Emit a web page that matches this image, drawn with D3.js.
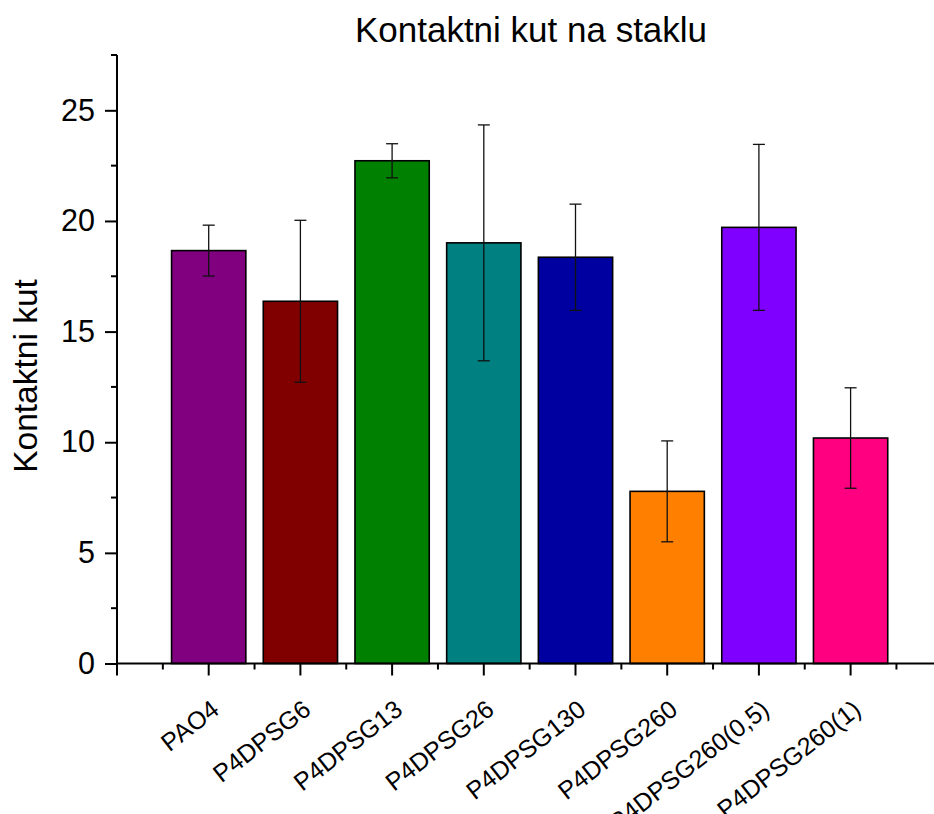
<!DOCTYPE html>
<html>
<head>
<meta charset="utf-8">
<script src="https://cdn.jsdelivr.net/npm/d3@7"></script>
<style>
  html, body { margin: 0; padding: 0; background: #fff; }
  svg { display: block; }
  text { font-family: "Liberation Sans", Arial, sans-serif; fill: #000; }
</style>
</head>
<body>
<svg id="chart" width="934" height="814"></svg>
<script>
// Contact angle on glass, mean and standard deviation per sample
const categories = ["PAO4", "P4DPSG6", "P4DPSG13", "P4DPSG26", "P4DPSG130", "P4DPSG260", "P4DPSG260(0,5)", "P4DPSG260(1)"];
const means = [18.66, 16.37, 22.72, 19.01, 18.36, 7.78, 19.71, 10.19];
const errors = [1.15, 3.66, 0.77, 5.33, 2.40, 2.28, 3.75, 2.27];
const colors = ["#800080", "#800000", "#008000", "#008080", "#0000A0", "#FF8000", "#8000FF", "#FF0080"];
const yMajorTicks = [0, 5, 10, 15, 20, 25];
const yMinorTicks = [2.5, 7.5, 12.5, 17.5, 22.5, 27.5];

const svg = d3.select("#chart");

const x = d3.scaleLinear().domain([0, categories.length + 1]).range([117, 942.3]);
const y = d3.scaleLinear().domain([0, 27.5]).range([663.5, 55]);
const step = x(1) - x(0);
const barW = step * 0.81;

// Bars
svg.append("g").selectAll("rect")
  .data(means)
  .join("rect")
  .attr("x", (d, i) => x(i + 1) - barW / 2)
  .attr("y", d => y(d))
  .attr("width", barW)
  .attr("height", d => y(0) - y(d))
  .attr("fill", (d, i) => colors[i])
  .attr("stroke", "#000")
  .attr("stroke-width", 1.6);

// Error bars
const eb = svg.append("g").attr("stroke", "#111").attr("stroke-width", 1.3).attr("fill", "none");
means.forEach((m, i) => {
  const cx = x(i + 1);
  const top = y(m + errors[i]);
  const bot = y(m - errors[i]);
  eb.append("line").attr("x1", cx).attr("x2", cx).attr("y1", top).attr("y2", bot);
  eb.append("line").attr("x1", cx - 6).attr("x2", cx + 6).attr("y1", top).attr("y2", top);
  eb.append("line").attr("x1", cx - 6).attr("x2", cx + 6).attr("y1", bot).attr("y2", bot);
});

// Y axis: major ticks with labels, minor ticks between
const yAxis = svg.append("g").attr("transform", `translate(${x(0)},0)`);
yAxis.call(d3.axisLeft(y).tickValues(yMajorTicks).tickSize(12).tickPadding(10).tickFormat(d3.format("d")));
yAxis.call(g => g.selectAll(".tick line").attr("stroke-width", 2));
yAxis.call(g => g.selectAll(".tick text").attr("font-size", 30.5).attr("font-family", "Liberation Sans, Arial, sans-serif").attr("fill", "#000"));
yAxis.call(g => g.select(".domain").attr("stroke-width", 2).attr("d", `M0,${y(0) + 1}V${y(27.5)}`));
yAxis.selectAll(".minor").data(yMinorTicks).join("line")
  .attr("class", "minor")
  .attr("x1", -6).attr("x2", 0)
  .attr("y1", d => y(d)).attr("y2", d => y(d))
  .attr("stroke", "#000").attr("stroke-width", 2);

// X axis: major ticks at categories, minor ticks midway
const xMajor = d3.range(0, categories.length + 2);
const xMinor = d3.range(0, categories.length + 1).map(d => d + 0.5);
const xAxis = svg.append("g").attr("transform", `translate(0,${y(0)})`);
xAxis.append("line")
  .attr("x1", x(0) - 1).attr("x2", x(categories.length + 1))
  .attr("stroke", "#000").attr("stroke-width", 2);
xAxis.selectAll(".major").data(xMajor).join("line")
  .attr("class", "major")
  .attr("x1", d => x(d)).attr("x2", d => x(d))
  .attr("y1", 0).attr("y2", 12)
  .attr("stroke", "#000").attr("stroke-width", 2);
xAxis.selectAll(".minor").data(xMinor).join("line")
  .attr("class", "minor")
  .attr("x1", d => x(d)).attr("x2", d => x(d))
  .attr("y1", 0).attr("y2", 6)
  .attr("stroke", "#000").attr("stroke-width", 2);

// Rotated category labels
svg.append("g").selectAll("text")
  .data(categories)
  .join("text")
  .attr("transform", (d, i) => `translate(${x(i + 1) + 12},${y(0) + 49}) rotate(-38)`)
  .attr("text-anchor", "end")
  .attr("font-size", 25)
  .text(d => d);

// Axis title
svg.append("text")
  .attr("transform", `translate(37,376) rotate(-90)`)
  .attr("text-anchor", "middle")
  .attr("font-size", 33.5)
  .text("Kontaktni kut");

// Chart title
svg.append("text")
  .attr("x", 531)
  .attr("y", 42)
  .attr("text-anchor", "middle")
  .attr("font-size", 35)
  .text("Kontaktni kut na staklu");
</script>
</body>
</html>
